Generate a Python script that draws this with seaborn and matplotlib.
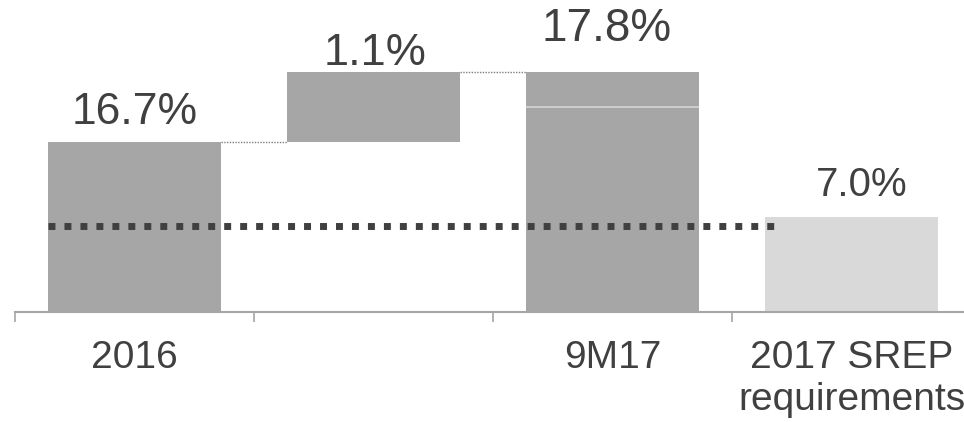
import numpy as np
import pandas as pd
import matplotlib
matplotlib.use("Agg")
import matplotlib.pyplot as plt
import seaborn as sns

# --- data -------------------------------------------------------------
categories = ["2016", "", "9M17", "2017 SREP\nrequirements"]
bar_low = [0.0, 16.7, 0.0, 0.0]          # where each bar starts
bar_high = [16.7, 17.8, 17.8, 7.0]       # where each bar ends
value_labels = ["16.7%", "1.1%", "17.8%", "7.0%"]
split_9m17 = 17.25                        # internal split of the 9M17 bar
threshold = 6.35                          # dotted reference level

# --- style ------------------------------------------------------------
dark_bar = "#a6a6a6"
light_bar = "#d9d9d9"
text_color = "#404040"
bar_colors = [dark_bar, dark_bar, dark_bar, light_bar]
bar_width = 0.72

sns.set_theme(style="white")
plt.rcParams["font.family"] = ["Liberation Sans", "DejaVu Sans"]

fig = plt.figure(figsize=(9.64, 4.22), dpi=100)
ax = fig.add_axes([15 / 964, 110 / 422, 956 / 964, 312 / 422])

df = pd.DataFrame({"cat": categories, "low": bar_low, "high": bar_high,
                   "color": bar_colors})

for _, row in df.iterrows():
    sns.barplot(x=[row["cat"]], y=[row["high"] - row["low"]], bottom=row["low"],
                order=categories, color=row["color"], saturation=1,
                width=bar_width, linewidth=0, edgecolor="none", ax=ax)

# split line inside the 9M17 bar
i9 = categories.index("9M17")
ax.hlines(split_9m17, i9 - bar_width / 2, i9 + bar_width / 2,
          color="#d4d4d4", lw=1.2, zorder=3)

# connectors between consecutive bars
for i in range(2):
    ax.hlines(bar_high[i], i + bar_width / 2, i + 1 - bar_width / 2,
              color="#7f7f7f", lw=1.0, linestyles=(0, (1, 1)), zorder=3)

# dotted reference line
ax.plot([-bar_width / 2, 3 - bar_width / 2 + 0.04], [threshold, threshold],
        color=text_color, lw=5, dashes=(1, 1.3), zorder=4)

# value labels
label_offsets = [(0, 13), (1, 5), (-4, 22), (7, 15)]
label_sizes = [32, 32.5, 33, 29]
for i, (txt, off, fs) in enumerate(zip(value_labels, label_offsets, label_sizes)):
    ax.annotate(txt, xy=(i, bar_high[i]), xytext=off, textcoords="offset points",
                ha="center", va="baseline", fontsize=fs, color=text_color)

# non-linear presentation scale for the value axis
pts_val = np.array([-100.0, 0.0, 7.0, 16.7, 17.8, 100.0])
pts_px = np.array([-1000.0, 0.0, 95.0, 170.0, 240.0, 240.0 + 822.0])


def fwd(v):
    return np.interp(v, pts_val, pts_px)


def inv(p):
    return np.interp(p, pts_px, pts_val)


ax.set_yscale("function", functions=(fwd, inv))
ax.set_ylim(0, float(inv(312)))
ax.set_yticks([])
ax.set_ylabel("")
ax.set_xlim(-0.5, len(categories) - 0.5)

# category boundaries as ticks, names centred between them
ax.set_xticks(np.arange(len(categories)) - 0.5, labels=[""] * len(categories))
ax.set_xticks(np.arange(len(categories)), labels=categories, minor=True)
ax.tick_params(axis="x", which="major", length=7.5, width=1.2,
               color="#a6a6a6", direction="out", bottom=True)
ax.tick_params(axis="x", which="minor", length=0, pad=20,
               labelsize=28, labelcolor=text_color)
for lbl in ax.get_xticklabels(minor=True):
    lbl.set_linespacing(1.22)
ax.set_xlabel("")

for side in ["top", "right", "left"]:
    ax.spines[side].set_visible(False)
ax.spines["bottom"].set_color("#a6a6a6")
ax.spines["bottom"].set_linewidth(1.5)
ax.patch.set_alpha(0)

fig.savefig("out.png", dpi=100)
